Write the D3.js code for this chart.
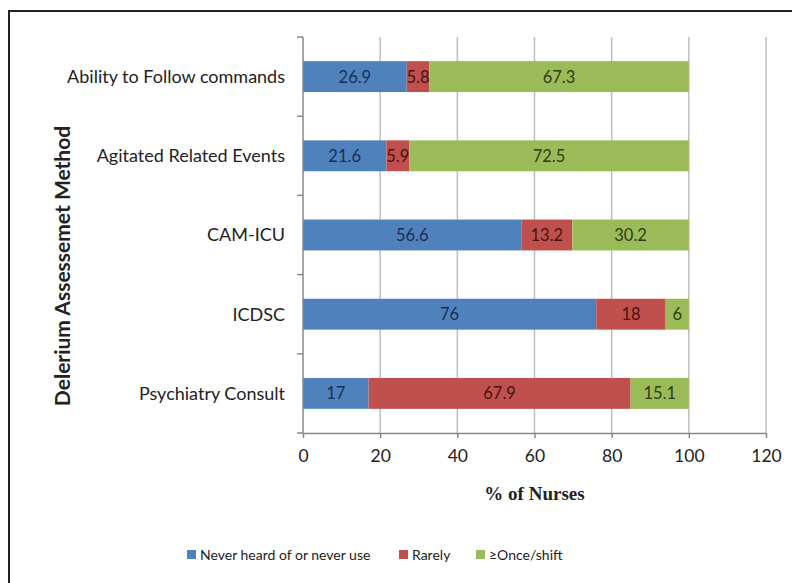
<!DOCTYPE html>
<html><head><meta charset="utf-8">
<script src="https://cdn.jsdelivr.net/npm/d3@7"></script>
<style>body{margin:0;background:#fff}</style>
</head><body>
<svg id="c" width="792" height="583"></svg>
<script>
const categories = ["Ability to Follow commands","Agitated Related Events","CAM-ICU","ICDSC","Psychiatry Consult"];
const seriesNames = ["Never heard of or never use","Rarely","\u2265Once/shift"];
const neverUse = [26.9, 21.6, 56.6, 76, 17];
const rarely = [5.8, 5.9, 13.2, 18, 67.9];
const onceShift = [67.3, 72.5, 30.2, 6, 15.1];
const xTicks = [0,20,40,60,80,100,120];
const colors = ["#4F81BD","#C0504D","#9BBB59"];
const textColors = ["#1A2F55","#4A1210","#2F3D14"];

(function(){
const svg = d3.select("#c");
svg.append("rect").attr("x",9).attr("y",11).attr("width",820).attr("height",620)
  .attr("fill","none").attr("stroke","#222").attr("stroke-width",2);

const pL=303, pR=766, pT=37, pB=433;
const x = d3.scaleLinear().domain([0,120]).range([pL,pR]);
const y = d3.scaleBand().domain(categories).range([pT,pB]).paddingInner(0.61).paddingOuter(0.305);

svg.append("g").selectAll("line").data(xTicks.slice(1)).join("line")
  .attr("x1",d=>x(d)).attr("x2",d=>x(d)).attr("y1",pT).attr("y2",pB)
  .attr("stroke","#BEBEBE").attr("stroke-width",1.5);

const data = categories.map((c,i)=>({cat:c, v:[neverUse[i],rarely[i],onceShift[i]]}));
const segs = [];
data.forEach(d=>{let s=0; d.v.forEach((v,k)=>{segs.push({cat:d.cat,k,x0:s,x1:s+v,v}); s+=v;});});

svg.append("g").selectAll("rect").data(segs).join("rect")
  .attr("x",d=>x(d.x0)).attr("width",d=>x(d.x1)-x(d.x0))
  .attr("y",d=>y(d.cat)).attr("height",y.bandwidth())
  .attr("fill",d=>colors[d.k]);

svg.append("g").selectAll("text").data(segs).join("text")
  .attr("x",d=>(x(d.x0)+x(d.x1))/2).attr("y",d=>y(d.cat)+y.bandwidth()/2)
  .attr("dy","0.36em").attr("text-anchor","middle")
  .attr("font-family","Lato, 'Open Sans', sans-serif").attr("font-size",16.5)
  .attr("fill",d=>textColors[d.k]).text(d=>d.v);

const yAxisG = svg.append("g");
yAxisG.append("line").attr("x1",pL).attr("x2",pL).attr("y1",pT).attr("y2",pB).attr("stroke","#888").attr("stroke-width",1.5);
const bounds = d3.range(categories.length+1).map(i=>pT+i*(pB-pT)/categories.length);
yAxisG.selectAll("line.t").data(bounds).join("line").attr("class","t")
  .attr("x1",pL-6).attr("x2",pL).attr("y1",d=>d).attr("y2",d=>d).attr("stroke","#888").attr("stroke-width",1.5);
yAxisG.selectAll("text").data(categories).join("text")
  .attr("x",pL-18).attr("y",d=>y(d)+y.bandwidth()/2).attr("dy","0.36em")
  .attr("text-anchor","end").attr("font-family","Lato, 'Open Sans', sans-serif").attr("font-size",18)
  .attr("fill","#222").text(d=>d);

const xAxis = d3.axisBottom(x).tickValues(xTicks).tickSize(5).tickSizeOuter(0);
const xg = svg.append("g").attr("transform",`translate(0,${pB})`).call(xAxis);
xg.select(".domain").attr("stroke","#888").attr("stroke-width",1.5);
xg.selectAll(".tick line").attr("stroke","#888").attr("stroke-width",1.5);
xg.selectAll(".tick text").attr("font-family","Lato, 'Open Sans', sans-serif").attr("font-size",17.5).attr("fill","#222").attr("dy","1.2em");

svg.append("text").attr("x",(x(0)+x(120))/2).attr("y",500).attr("text-anchor","middle")
  .attr("font-family","'Liberation Serif', 'Times New Roman', serif").attr("font-weight","bold").attr("font-size",19)
  .attr("fill","#222").text("% of Nurses");

svg.append("text").attr("transform",`translate(70,266) rotate(-90)`).attr("text-anchor","middle")
  .attr("font-family","Lato, 'Open Sans', sans-serif").attr("font-weight","bold").attr("font-size",21)
  .attr("fill","#222").text("Delerium Assessemet Method");

const legX = [187, 399, 476];
const lg = svg.append("g").selectAll("g").data(seriesNames).join("g")
  .attr("transform",(d,i)=>`translate(${legX[i]},555)`);
lg.append("rect").attr("x",0).attr("y",-5).attr("width",9).attr("height",9).attr("fill",(d,i)=>colors[i]);
lg.append("text").attr("x",13).attr("y",0).attr("dy","0.36em")
  .attr("font-family","Lato, 'Open Sans', sans-serif").attr("font-size",14).attr("fill","#222").text(d=>d);
})();
</script>
</body></html>
